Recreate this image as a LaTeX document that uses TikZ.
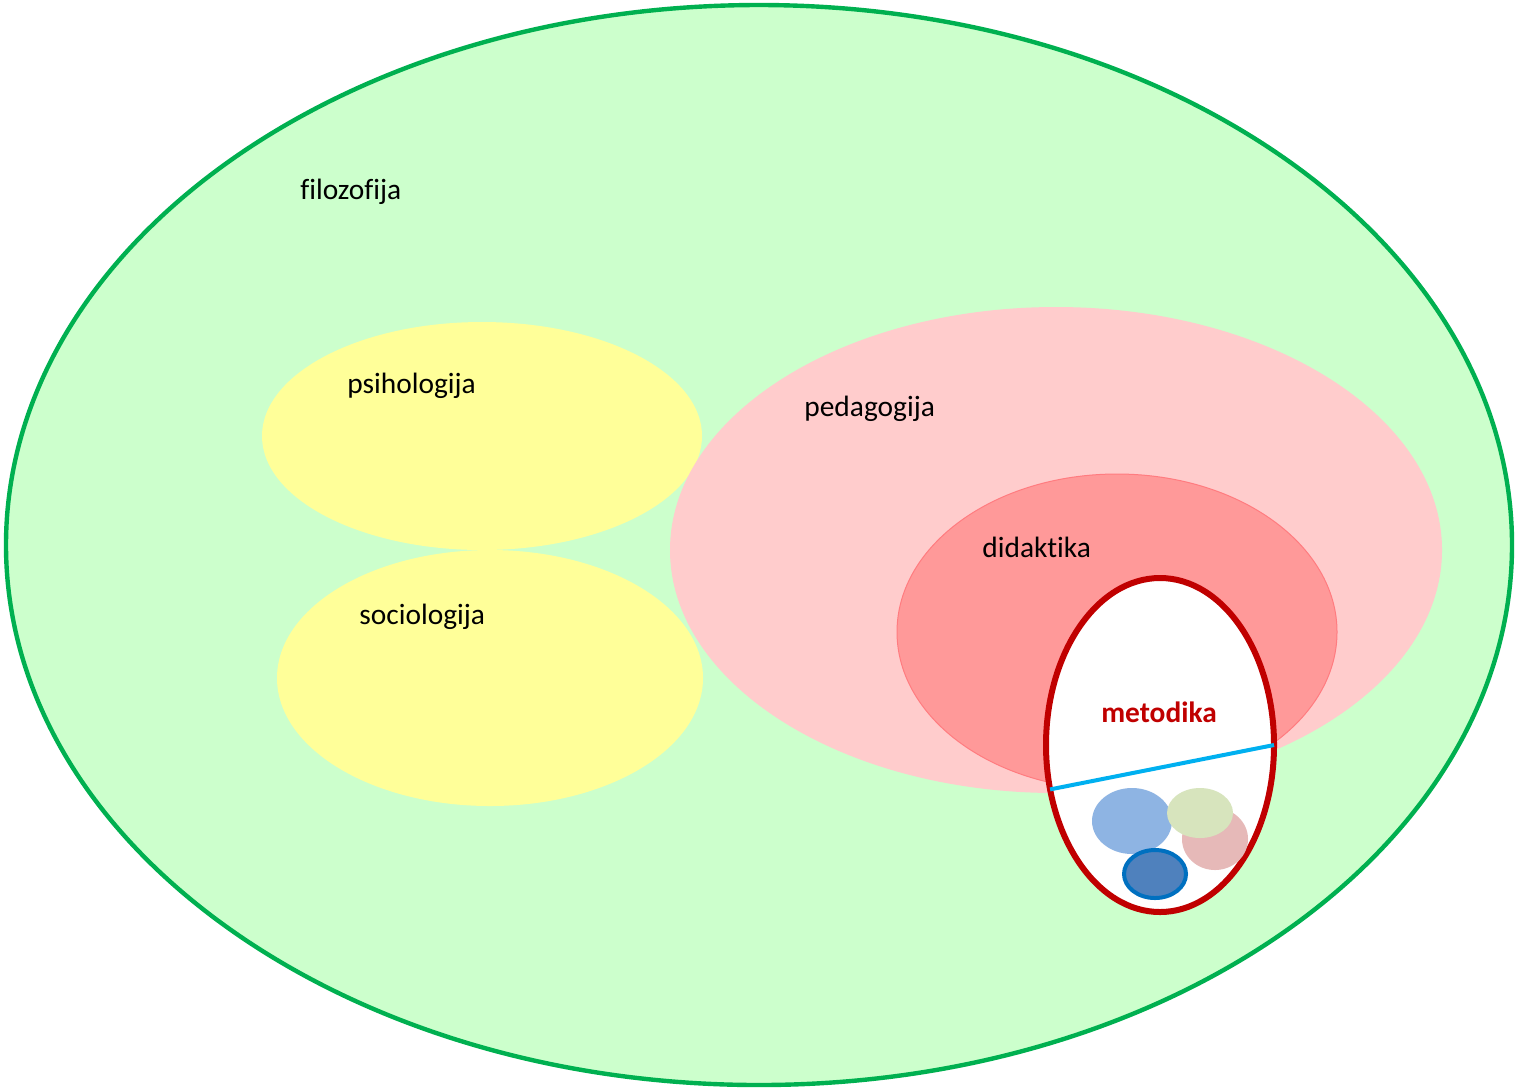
\documentclass[tikz,border=0pt]{standalone}
\usepackage{fontspec}
\setmainfont[Ligatures=NoCommon]{Carlito}
\usetikzlibrary{positioning}
\usetikzlibrary{shapes.geometric}

\definecolor{filgreen}{HTML}{CCFFCC}
\definecolor{filedge}{HTML}{00B050}
\definecolor{psyellow}{HTML}{FFFF99}
\definecolor{pedpink}{HTML}{FFCCCC}
\definecolor{didred}{HTML}{FF9999}
\definecolor{didedge}{HTML}{FF7C80}
\definecolor{metred}{HTML}{C00000}
\definecolor{cutblue}{HTML}{00B0F0}
\definecolor{smblue}{HTML}{8EB4E3}
\definecolor{smpink}{HTML}{E6B9B8}
\definecolor{smgreen}{HTML}{D7E4BD}
\definecolor{smdark}{HTML}{4F81BD}
\definecolor{smedge}{HTML}{0070C0}

\begin{document}
\begin{tikzpicture}[x=0.5pt,y=-0.5pt,
                area/.style={ellipse,inner sep=0pt,outer sep=0pt},
                name text/.style={font=\fontsize{14.7}{17}\selectfont,anchor=base west,inner sep=0pt}]

  \useasboundingbox (0,0) rectangle (1518,1089);

  % big fields
  \node[area,fill=filgreen,draw=filedge,line width=2.2pt,minimum width=753pt,minimum height=540pt] (fil) at (759,545) {};
  \node[area,fill=psyellow,minimum width=220pt,minimum height=114pt] (psi) at (482,436) {};
  \node[area,fill=psyellow,minimum width=213pt,minimum height=128pt] (soc) at (490,678) {};
  \node[area,fill=pedpink,minimum width=386pt,minimum height=243pt] (ped) at (1056,550) {};
  \node[area,fill=didred,draw=didedge,line width=0.5pt,minimum width=220pt,minimum height=158pt] (did) at (1117,632) {};
  \node[area,fill=white,draw=metred,line width=3pt,minimum width=114pt,minimum height=167pt] (met) at (1160,745) {};

  % cut inside metodika
  \draw[cutblue,line width=2pt] (met.202) -- (met.0);

  % small parts
  \node[area,fill=smblue,minimum width=40pt,minimum height=33pt] (b1) at (1132,821) {};
  \node[area,fill=smpink,minimum width=33pt,minimum height=31pt] (b2) at (1215,839) {};
  \node[area,fill=smgreen,minimum width=33pt,minimum height=25pt] (b3) at (1200,813) {};
  \node[area,fill=smdark,draw=smedge,line width=2pt,minimum width=31pt,minimum height=24pt] (b4) at (1155,874) {};

  % names
  \node[name text] (filt) at (300,199) {filozofija};
  \node[name text] (psit) at (347,393) {psihologija};
  \node[name text] (soct) at (359,624) {sociologija};
  \node[name text] (pedt) at (804,416) {pedagogija};
  \node[name text] (didt) at (982,557) {didaktika};
  \node[name text,anchor=base,font=\fontsize{14.7}{17}\selectfont\bfseries,text=metred] (mett) at (1159,722) {metodika};

\end{tikzpicture}
\end{document}
